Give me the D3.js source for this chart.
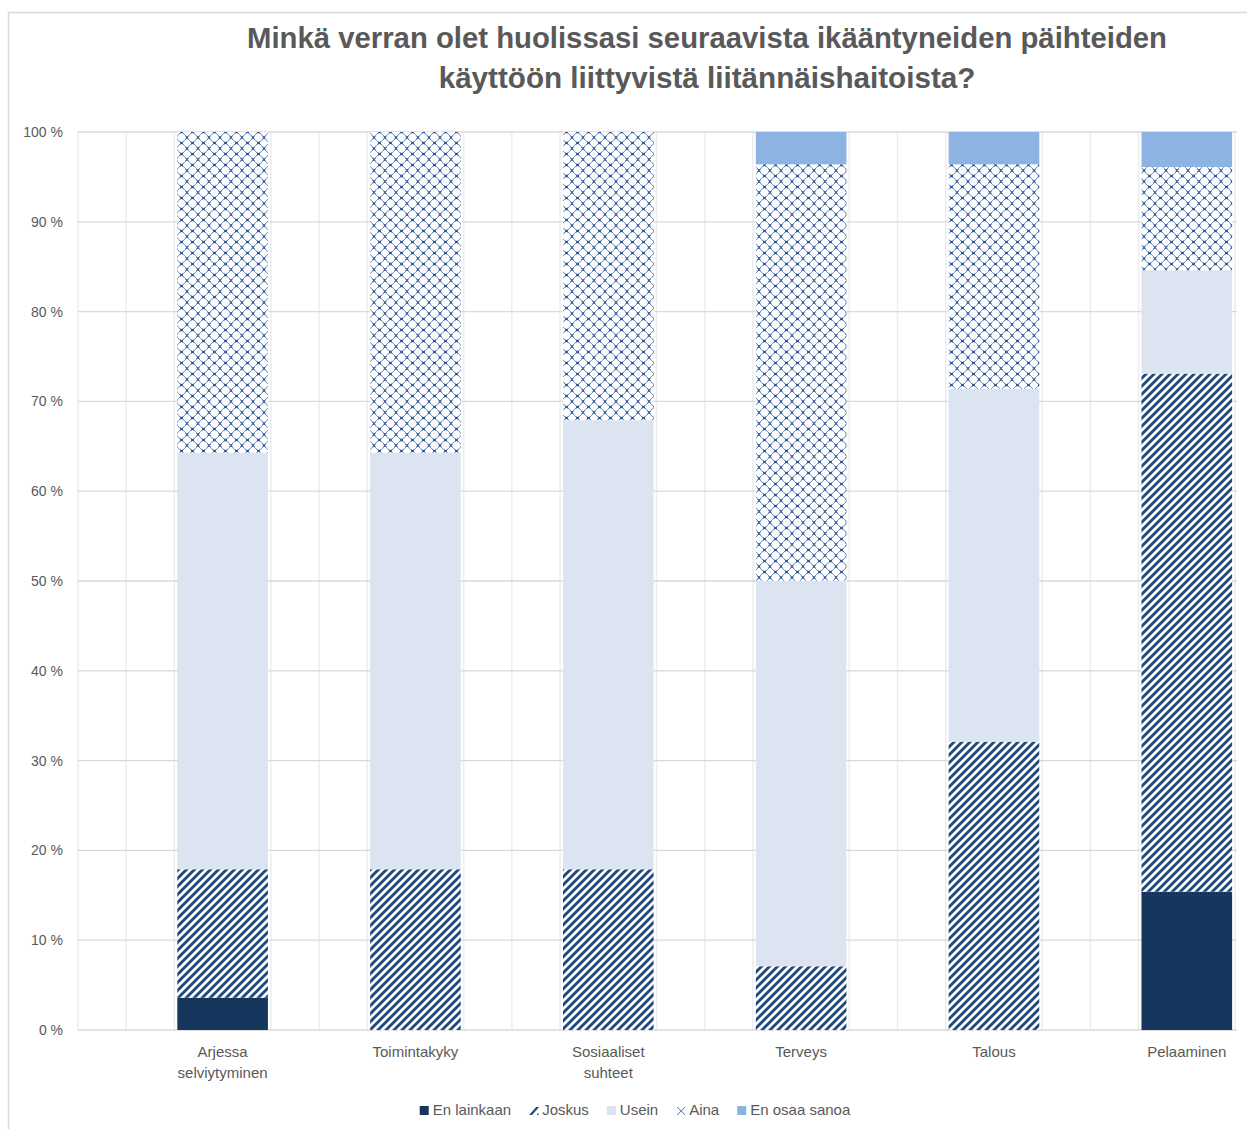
<!DOCTYPE html>
<html><head><meta charset="utf-8">
<script src="https://cdn.jsdelivr.net/npm/d3@7"></script>
<style>body{margin:0;background:#fff}svg{display:block}</style>
</head><body><svg id="c" width="1247" height="1129"></svg>
<script>
const titleLines = ["Minkä verran olet huolissasi seuraavista ikääntyneiden päihteiden", "käyttöön liittyvistä liitännäishaitoista?"];
const categories = ["Arjessa\nselviytyminen", "Toimintakyky", "Sosiaaliset\nsuhteet", "Terveys", "Talous", "Pelaaminen"];
const seriesNames = ["En lainkaan", "Joskus", "Usein", "Aina", "En osaa sanoa"];
const enLainkaan = [3.6, 0, 0, 0, 0, 15.4];
const joskus = [14.3, 17.9, 17.9, 7.1, 32.1, 57.7];
const usein = [46.4, 46.4, 50.0, 42.9, 39.3, 11.5];
const aina = [35.7, 35.7, 32.1, 46.4, 25.0, 11.5];
const enOsaa = [0, 0, 0, 3.6, 3.6, 3.9];
const yTicks = [0, 10, 20, 30, 40, 50, 60, 70, 80, 90, 100];

const svg = d3.select("#c");
const W = 1247, H = 1129;
const L = 78, R = 1235, T = 132, B = 1030;
const textCol = "#595959";
const FONT = "'Liberation Sans', Arial, sans-serif";

// outer border
svg.append("rect").attr("x", 8.5).attr("y", 12.5).attr("width", W + 10).attr("height", H + 10)
  .attr("fill", "none").attr("stroke", "#d9d9d9").attr("stroke-width", 1.5);

// patterns
const defs = svg.append("defs");
const pj = defs.append("pattern").attr("id", "pJoskus").attr("patternUnits", "userSpaceOnUse")
  .attr("width", 8).attr("height", 8);
pj.append("rect").attr("width", 8).attr("height", 8).attr("fill", "#fff");
pj.append("path").attr("d", "M-2,10 L10,-2 M-6,6 L6,-6 M2,14 L14,2").attr("stroke", "#1f4a80").attr("stroke-width", 2.9);
const pa = defs.append("pattern").attr("id", "pAina").attr("patternUnits", "userSpaceOnUse")
  .attr("width", 11).attr("height", 11);
pa.append("rect").attr("width", 11).attr("height", 11).attr("fill", "#fff");
pa.append("path").attr("d", "M0,5.5 Q2.2,2.2 5.5,0 Q8.8,2.2 11,5.5 Q8.8,8.8 5.5,11 Q2.2,8.8 0,5.5 Z").attr("fill", "none").attr("stroke", "#5a7fb8").attr("stroke-width", 1);
pa.append("path").attr("d", "M4.3,-1.2 L6.7,1.2 M6.7,-1.2 L4.3,1.2 M4.3,9.8 L6.7,12.2 M6.7,9.8 L4.3,12.2 M-1.2,4.3 L1.2,6.7 M1.2,4.3 L-1.2,6.7 M9.8,4.3 L12.2,6.7 M12.2,4.3 L9.8,6.7")
  .attr("stroke", "#24508f").attr("stroke-width", 1.2);

const fills = ["#17365d", "url(#pJoskus)", "#dbe4f0", "url(#pAina)", "#8db3e2"];

// scales
const x = d3.scaleLinear().domain([0, 24]).range([L, R]);
const y = d3.scaleLinear().domain([0, 100]).range([B, T]);
const catPos = categories.map((c, i) => 4 * i + 3);
const barW = x(1.88) - x(0);

// vertical gridlines
svg.append("g").selectAll("line").data(d3.range(0, 25)).join("line")
  .attr("x1", d => x(d)).attr("x2", d => x(d)).attr("y1", T).attr("y2", B)
  .attr("stroke", "#ededed").attr("stroke-width", 1.5);
// horizontal gridlines
svg.append("g").selectAll("line").data(yTicks).join("line")
  .attr("x1", L).attr("x2", R + 2).attr("y1", d => y(d)).attr("y2", d => y(d))
  .attr("stroke", "#d9d9d9").attr("stroke-width", 1.3);

// y axis
const ya = svg.append("g").attr("transform", `translate(${L},0)`)
  .call(d3.axisLeft(y).tickValues(yTicks).tickSize(0).tickPadding(15).tickFormat(d => d + " %"));
ya.select(".domain").remove();
ya.selectAll("text").attr("fill", textCol).style("font-family", FONT).style("font-size", "14px");

// stacked data
const rows = categories.map((c, i) => ({cat: c, i, "En lainkaan": enLainkaan[i], "Joskus": joskus[i], "Usein": usein[i], "Aina": aina[i], "En osaa sanoa": enOsaa[i]}));
const stacked = d3.stack().keys(seriesNames)(rows);
svg.append("g").selectAll("g").data(stacked).join("g")
  .attr("fill", (d, k) => fills[k])
  .selectAll("rect").data(d => d).join("rect")
  .attr("x", d => x(catPos[d.data.i]) - barW / 2)
  .attr("width", barW)
  .attr("y", d => y(Math.min(100, d[1])))
  .attr("height", d => Math.max(0, y(d[0]) - y(Math.min(100, d[1]))));

// x labels
const xl = svg.append("g");
categories.forEach((c, i) => {
  const t = xl.append("text").attr("x", x(catPos[i])).attr("y", 1057)
    .attr("text-anchor", "middle").attr("fill", textCol)
    .style("font-family", FONT).style("font-size", "15px");
  c.split("\n").forEach((ln, j) => t.append("tspan").attr("x", x(catPos[i])).attr("dy", j === 0 ? 0 : 21).text(ln));
});

// title
const titleWidths = [920, 537];
titleLines.forEach((ln, j) => {
  const t = svg.append("text").attr("x", 707).attr("y", j === 0 ? 48 : 88)
    .attr("text-anchor", "middle").attr("fill", textCol).attr("font-weight", "bold")
    .style("font-family", FONT).style("font-size", "28px").text(ln);
  const w = t.node().getComputedTextLength();
  t.style("font-size", (28 * titleWidths[j] / w).toFixed(2) + "px");
});

// legend
const lg = svg.append("g");
let items = [];
let cx = 0;
seriesNames.forEach((n, k) => {
  const g = lg.append("g");
  if (k === 1) {
    g.append("path").attr("d", "M0,0 L3,0 L10,-8 L7,-8 Z").attr("fill", "#1f4a80");
    g.append("rect").attr("x", 8).attr("y", -1.5).attr("width", 1.5).attr("height", 1.5).attr("fill", "#1f4a80");
  } else if (k === 3) {
    g.append("path").attr("d", "M1,-8 L9,0 M9,-8 L1,0").attr("stroke", "#4a72ad").attr("stroke-width", 1);
  } else {
    g.append("rect").attr("x", 0).attr("y", -9).attr("width", 9).attr("height", 9).attr("fill", fills[k]);
  }
  const t = g.append("text").attr("x", 13).attr("y", 0).attr("fill", textCol)
    .style("font-family", FONT).style("font-size", "15px").text(n);
  const w = 13 + t.node().getComputedTextLength();
  items.push({g, x: cx});
  cx += w + 18;
});
const totalW = cx - 18;
const start = 635 - totalW / 2;
items.forEach(it => it.g.attr("transform", `translate(${start + it.x},1115)`));
</script></body></html>
